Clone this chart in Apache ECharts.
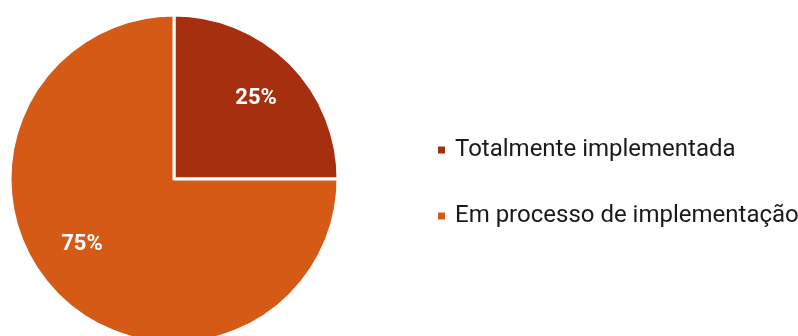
<!DOCTYPE html>
<html><head><meta charset="utf-8">
<script src="https://cdn.jsdelivr.net/npm/echarts@6/dist/echarts.min.js"></script>
<style>html,body{margin:0;padding:0;background:#fff}#c{width:798px;height:336px}</style>
</head><body><div id="c"></div>
<script>
const categories = ["Totalmente implementada", "Em processo de implementação"];
const values = [25, 75];
const colors = ["#A52F0F", "#D55A16"];
const labelOffsets = [[22, -20], [-32, 5]];

const chart = echarts.init(document.getElementById('c'), null, {renderer: 'canvas'});
chart.setOption({
  animation: false,
  legend: {
    orient: 'vertical',
    left: 436,
    top: 138,
    padding: 0,
    itemWidth: 9,
    itemHeight: 9,
    itemGap: 42,
    icon: 'rect',
    textStyle: {fontFamily: 'Roboto', fontSize: 24, lineHeight: 24, color: '#1a1a1a', padding: [0, 0, 0, 4]},
    data: categories
  },
  series: [{
    type: 'pie',
    center: [174, 179],
    radius: 164,
    startAngle: 90,
    clockwise: true,
    itemStyle: {borderColor: '#fff', borderWidth: 3},
    label: {show: true, position: 'inside', formatter: '{d}%', color: '#fff', fontFamily: 'Roboto', fontWeight: 'bold', fontSize: 22},
    labelLine: {show: false},
    emphasis: {disabled: true},
    data: categories.map((n, i) => ({name: n, value: values[i], itemStyle: {color: colors[i]}, label: {offset: labelOffsets[i]}}))
  }]
});
</script></body></html>
